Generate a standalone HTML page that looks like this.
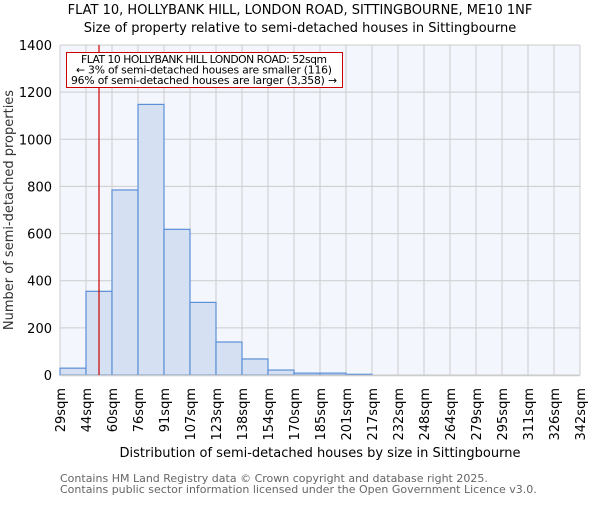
<!DOCTYPE html>
<html><head><meta charset="utf-8"><style>
body{margin:0;background:#fff}
svg text{font-family:"DejaVu Sans","Liberation Sans",sans-serif}
</style></head><body>
<svg id="chart" width="600" height="500" viewBox="0 0 600 500" xmlns="http://www.w3.org/2000/svg">
<text x="300" y="14" text-anchor="middle" font-size="13">FLAT 10, HOLLYBANK HILL, LONDON ROAD, SITTINGBOURNE, ME10 1NF</text>
<text x="300" y="32" text-anchor="middle" font-size="13">Size of property relative to semi-detached houses in Sittingbourne</text>
<rect x="60" y="45" width="520" height="330" fill="#f3f6fd"/>
<g id="grid"></g><g id="bars"></g><g id="yticks"></g><g id="xticks"></g>
<line x1="60" y1="375.5" x2="580" y2="375.5" stroke="#ccc" stroke-width="1.5"/>
<line id="marker" y1="45" y2="375" stroke="#cc0000" stroke-width="1.2"/>
<rect x="66.5" y="52.5" width="276" height="35" fill="#fff" stroke="#cc0000" stroke-width="1"/>
<text x="204" y="63" text-anchor="middle" font-size="10.8" textLength="246">FLAT 10 HOLLYBANK HILL LONDON ROAD: 52sqm</text>
<text x="204" y="73.5" text-anchor="middle" font-size="10.8" textLength="256">← 3% of semi-detached houses are smaller (116)</text>
<text x="204" y="84" text-anchor="middle" font-size="10.8" textLength="266">96% of semi-detached houses are larger (3,358) →</text>
<text transform="translate(13,210) rotate(-90)" text-anchor="middle" font-size="13" fill="#333">Number of semi-detached properties</text>
<text x="320" y="457" text-anchor="middle" font-size="13">Distribution of semi-detached houses by size in Sittingbourne</text>
<text x="60" y="482" font-size="11" fill="#666">Contains HM Land Registry data © Crown copyright and database right 2025.</text>
<text x="60" y="493" font-size="11" fill="#666">Contains public sector information licensed under the Open Government Licence v3.0.</text>
</svg>
<script>
const binLabels=["29sqm","44sqm","60sqm","76sqm","91sqm","107sqm","123sqm","138sqm","154sqm","170sqm","185sqm","201sqm","217sqm","232sqm","248sqm","264sqm","279sqm","295sqm","311sqm","326sqm","342sqm"];
const binEdges=[29,44,60,76,91,107,123,138,154,170,185,201,217,232,248,264,279,295,311,326,342];
const counts=[29,355,785,1148,618,308,140,68,21,8,8,3,0,0,0,0,0,0,0,0];
const yTicks=[0,200,400,600,800,1000,1200,1400];
const propertySize=52;
const NS="http://www.w3.org/2000/svg";
const x0=60,x1=580,y0=375,y1=45,yMax=1400;
const nb=counts.length;
function xi(i){return x0+(x1-x0)*i/nb;}
function xv(v){let i=0;while(i<binEdges.length-2&&v>binEdges[i+1])i++;return xi(i)+(v-binEdges[i])/(binEdges[i+1]-binEdges[i])*(xi(i+1)-xi(i));}
function y(v){return y0-(y0-y1)*v/yMax;}
function mk(t,a,p){const e=document.createElementNS(NS,t);for(const k in a)e.setAttribute(k,a[k]);p.appendChild(e);return e;}
const grid=document.getElementById('grid'),bars=document.getElementById('bars'),yt=document.getElementById('yticks'),xt=document.getElementById('xticks');
yTicks.forEach(v=>{
 const l=mk('line',{x1:x0,x2:x1,y1:y(v),y2:y(v),stroke:'#cccccc','stroke-width':1},grid);
 
 
 const t=mk('text',{x:x0-8,y:y(v)+5,'text-anchor':'end','font-size':13},yt);
 t.textContent=v;
 
 
});
binLabels.forEach((s,i)=>{
 const l=mk('line',{x1:xi(i),x2:xi(i),y1:y1,y2:y0,stroke:'#cccccc','stroke-width':1},grid);
 
 
 const t=mk('text',{transform:`translate(${xi(i)+5},388) rotate(-90)`,'text-anchor':'end','font-size':13},xt);
 t.textContent=s;
 
 
});
counts.forEach((c,i)=>{
 if(c<=0)return;
 const r=mk('rect',{x:xi(i),y:y(c),width:xi(i+1)-xi(i),height:y0-y(c),fill:'#d6e0f3',stroke:'#5b8fd6','stroke-width':1.2},bars);
 
 
});
const m=document.getElementById('marker');m.setAttribute('x1',xv(propertySize));m.setAttribute('x2',xv(propertySize));
</script>
</body></html>
